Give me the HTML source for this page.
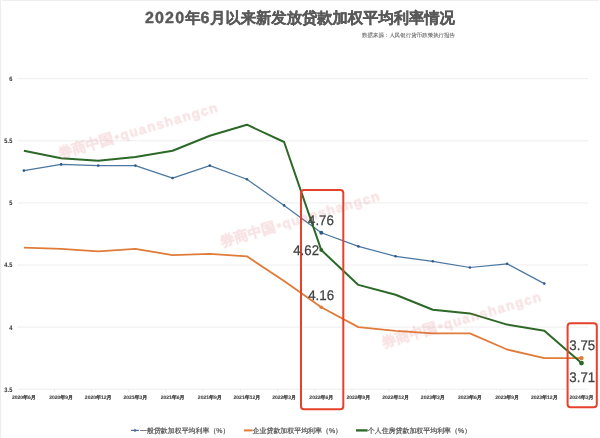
<!DOCTYPE html>
<html><head><meta charset="utf-8"><style>
html,body{margin:0;padding:0;background:#fff;}
body{width:600px;height:438px;overflow:hidden;position:relative;font-family:"Liberation Sans",sans-serif;}
svg{position:absolute;left:0;top:0;will-change:transform;}
</style></head><body>
<svg width="600" height="438" viewBox="0 0 600 438" font-family="Liberation Sans, sans-serif" text-rendering="geometricPrecision">
<rect x="0" y="0" width="600" height="438" fill="#fff"/>
<rect x="0" y="0" width="1.1" height="438" fill="#ededed"/>
<rect x="2" y="0" width="597" height="1" fill="#eeeeee"/>
<g transform="translate(145,23) scale(0.5)"><text x="0" y="0" font-size="30.6" font-weight="bold" fill="#595959" stroke="#595959" stroke-width="0.9"><tspan font-size="32" letter-spacing="2.3">2020</tspan>年<tspan font-size="32" letter-spacing="1.5">6</tspan>月以来新发放贷款加权平均利率情况</text></g>
<g transform="translate(455,37.3) scale(0.497)"><text x="0" y="0" font-size="11" fill="#595959" stroke="#595959" stroke-width="0.12" text-anchor="end">数据来源：人民银行货币政策执行报告</text></g>
<g stroke="#eeeeee" stroke-width="1"><line x1="17.3" x2="588" y1="78.7" y2="78.7"/><line x1="17.3" x2="588" y1="140.8" y2="140.8"/><line x1="17.3" x2="588" y1="202.9" y2="202.9"/><line x1="17.3" x2="588" y1="265.0" y2="265.0"/><line x1="17.3" x2="588" y1="327.1" y2="327.1"/><line x1="17.3" x2="588" y1="389.2" y2="389.2"/></g>
<g stroke="#e6e6e6" stroke-width="0.8"><line x1="54.5" x2="54.5" y1="389" y2="391.5"/><line x1="91.6" x2="91.6" y1="389" y2="391.5"/><line x1="128.8" x2="128.8" y1="389" y2="391.5"/><line x1="166.0" x2="166.0" y1="389" y2="391.5"/><line x1="203.2" x2="203.2" y1="389" y2="391.5"/><line x1="240.3" x2="240.3" y1="389" y2="391.5"/><line x1="277.5" x2="277.5" y1="389" y2="391.5"/><line x1="314.7" x2="314.7" y1="389" y2="391.5"/><line x1="351.8" x2="351.8" y1="389" y2="391.5"/><line x1="389.0" x2="389.0" y1="389" y2="391.5"/><line x1="426.2" x2="426.2" y1="389" y2="391.5"/><line x1="463.3" x2="463.3" y1="389" y2="391.5"/><line x1="500.5" x2="500.5" y1="389" y2="391.5"/><line x1="537.7" x2="537.7" y1="389" y2="391.5"/><line x1="574.9" x2="574.9" y1="389" y2="391.5"/></g>
<g font-size="13" font-weight="bold" fill="#404040" stroke="#404040" stroke-width="0.2" text-anchor="end" letter-spacing="0.6"><g transform="translate(12.7,81.1) scale(0.43,0.5)"><text x="0" y="0">6</text></g><g transform="translate(12.7,143.2) scale(0.43,0.5)"><text x="0" y="0">5.5</text></g><g transform="translate(12.7,205.3) scale(0.43,0.5)"><text x="0" y="0">5</text></g><g transform="translate(12.7,267.4) scale(0.43,0.5)"><text x="0" y="0">4.5</text></g><g transform="translate(12.7,329.5) scale(0.43,0.5)"><text x="0" y="0">4</text></g><g transform="translate(12.7,391.6) scale(0.43,0.5)"><text x="0" y="0">3.5</text></g></g>
<g font-size="10" font-weight="bold" fill="#505050" stroke="#505050" stroke-width="0.3" text-anchor="middle"><g transform="translate(23.9,398.6) scale(0.5)"><text x="0" y="0">2020年6月</text></g><g transform="translate(61.1,398.6) scale(0.5)"><text x="0" y="0">2020年9月</text></g><g transform="translate(98.2,398.6) scale(0.5)"><text x="0" y="0">2020年12月</text></g><g transform="translate(135.4,398.6) scale(0.5)"><text x="0" y="0">2021年3月</text></g><g transform="translate(172.6,398.6) scale(0.5)"><text x="0" y="0">2021年6月</text></g><g transform="translate(209.8,398.6) scale(0.5)"><text x="0" y="0">2021年9月</text></g><g transform="translate(246.9,398.6) scale(0.5)"><text x="0" y="0">2021年12月</text></g><g transform="translate(284.1,398.6) scale(0.5)"><text x="0" y="0">2022年3月</text></g><g transform="translate(321.3,398.6) scale(0.5)"><text x="0" y="0">2022年6月</text></g><g transform="translate(358.4,398.6) scale(0.5)"><text x="0" y="0">2022年9月</text></g><g transform="translate(395.6,398.6) scale(0.5)"><text x="0" y="0">2022年12月</text></g><g transform="translate(432.8,398.6) scale(0.5)"><text x="0" y="0">2023年3月</text></g><g transform="translate(469.9,398.6) scale(0.5)"><text x="0" y="0">2023年6月</text></g><g transform="translate(507.1,398.6) scale(0.5)"><text x="0" y="0">2023年9月</text></g><g transform="translate(544.3,398.6) scale(0.5)"><text x="0" y="0">2023年12月</text></g><g transform="translate(581.5,398.6) scale(0.5)"><text x="0" y="0">2024年3月</text></g></g>
<polyline points="23.9,170.6 61.1,164.4 98.2,165.6 135.4,165.6 172.6,178.1 209.8,165.6 246.9,179.3 284.1,205.4 321.3,232.7 358.4,246.4 395.6,256.3 432.8,261.3 469.9,267.5 507.1,263.8 544.3,283.6" fill="none" stroke="#4a76a0" stroke-width="1.2" stroke-linejoin="round"/>
<g fill="#2d5a86"><circle cx="23.9" cy="170.6" r="1.3"/><circle cx="61.1" cy="164.4" r="1.3"/><circle cx="98.2" cy="165.6" r="1.3"/><circle cx="135.4" cy="165.6" r="1.3"/><circle cx="172.6" cy="178.1" r="1.3"/><circle cx="209.8" cy="165.6" r="1.3"/><circle cx="246.9" cy="179.3" r="1.3"/><circle cx="284.1" cy="205.4" r="1.3"/><circle cx="321.3" cy="232.7" r="1.3"/><circle cx="358.4" cy="246.4" r="1.3"/><circle cx="395.6" cy="256.3" r="1.3"/><circle cx="432.8" cy="261.3" r="1.3"/><circle cx="469.9" cy="267.5" r="1.3"/><circle cx="507.1" cy="263.8" r="1.3"/><circle cx="544.3" cy="283.6" r="1.3"/><circle cx="321.3" cy="232.7" r="2"/></g>
<polyline points="23.9,247.6 61.1,248.9 98.2,251.3 135.4,248.9 172.6,255.1 209.8,253.8 246.9,256.3 284.1,281.1 321.3,307.2 358.4,327.1 395.6,330.8 432.8,333.3 469.9,333.3 507.1,349.5 544.3,358.1 581.5,358.1" fill="none" stroke="#e07b39" stroke-width="1.85" stroke-linejoin="round"/>
<g fill="#e07b39"><circle cx="321.3" cy="307.2" r="1.8"/><circle cx="581.5" cy="358.1" r="2.2"/></g>
<polyline points="23.9,150.7 61.1,158.2 98.2,160.7 135.4,156.9 172.6,150.7 209.8,135.8 246.9,124.7 284.1,142.0 321.3,250.1 358.4,284.9 395.6,294.8 432.8,309.7 469.9,313.4 507.1,324.6 544.3,330.8 581.5,363.1" fill="none" stroke="#2c6827" stroke-width="2.0" stroke-linejoin="round"/>
<g fill="#2c6827"><circle cx="321.3" cy="250.1" r="2"/><circle cx="581.5" cy="363.1" r="2.4"/></g>
<g fill="#d76363" stroke="#d76363" opacity="0.18" stroke-width="0.5" font-size="15.2" font-weight="bold">
<g transform="translate(60,158.5) rotate(-16.5)"><text><tspan font-size="14.2">券商中国</tspan><tspan font-size="13.6" letter-spacing="1.25" dx="1.5">•quanshangcn</tspan></text></g>
<g transform="translate(222,247) rotate(-16.5)"><text><tspan font-size="14.2">券商中国</tspan><tspan font-size="13.6" letter-spacing="1.25" dx="1.5">•quanshangcn</tspan></text></g>
<g transform="translate(383.5,347.7) rotate(-16.5)"><text><tspan font-size="14.2">券商中国</tspan><tspan font-size="13.6" letter-spacing="1.25" dx="1.5">•quanshangcn</tspan></text></g>
</g>
<g fill="none" stroke="#e5422b" stroke-width="2">
<rect x="301" y="190" width="42.3" height="219.2" rx="3"/>
<rect x="567.6" y="323.3" width="29.2" height="83.9" rx="3"/>
</g>
<g font-size="14" fill="#404040" stroke="#404040" stroke-width="0.25">
<g transform="translate(308,224.5) scale(0.95,1)"><text>4.76</text></g>
<g transform="translate(293.2,254.9) scale(0.95,1)"><text>4.62</text></g>
<g transform="translate(308.2,299.7) scale(0.95,1)"><text>4.16</text></g>
<g transform="translate(569.3,349.8) scale(0.95,1)"><text>3.75</text></g>
<g transform="translate(569.3,381.8) scale(0.95,1)"><text>3.71</text></g>
</g>
<g font-size="6.95" fill="#595959" stroke-width="0">
<g stroke="#555555" stroke-width="0.22">
<line x1="131" x2="139" y1="430.4" y2="430.4" stroke="#4a76a0" stroke-width="1.2"/><circle cx="135" cy="430.4" r="1.2" fill="#4a76a0"/>
<text x="140" y="433.2">一般贷款加权平均利率（%）</text>
<line x1="244" x2="252.4" y1="430.4" y2="430.4" stroke="#e07b39" stroke-width="2"/>
<text x="252.6" y="433.2">企业贷款加权平均利率（%）</text>
<line x1="356" x2="367.6" y1="430.4" y2="430.4" stroke="#2c6827" stroke-width="2.3"/>
<text x="367.8" y="433.2">个人住房贷款加权平均利率（%）</text>
</g></g>
</svg>
</body></html>
